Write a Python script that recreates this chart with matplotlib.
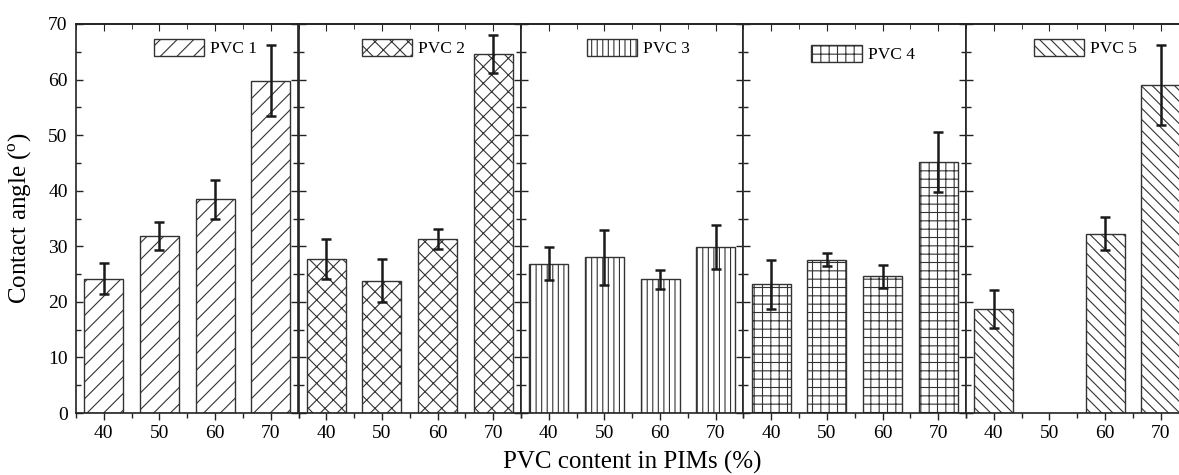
import matplotlib
matplotlib.use("Agg")
import matplotlib.pyplot as plt
from matplotlib.ticker import MultipleLocator

plt.rcParams['font.family'] = ['Liberation Serif', 'DejaVu Serif']
plt.rcParams['mathtext.fontset'] = 'custom'
plt.rcParams['mathtext.rm'] = 'Liberation Serif'
plt.rcParams['hatch.linewidth'] = 0.8
plt.rcParams['hatch.color'] = 'black'

content = [40, 50, 60, 70]
series = ['PVC 1', 'PVC 2', 'PVC 3', 'PVC 4', 'PVC 5']
hatches = ['//', 'xx', '|||', '++', '\\\\\\']

pvc1 = [24.2, 31.9, 38.5, 59.8]
pvc2 = [27.8, 23.8, 31.4, 64.6]
pvc3 = [26.9, 28.0, 24.1, 29.9]
pvc4 = [23.2, 27.6, 24.6, 45.2]
pvc5 = [18.7, None, 32.3, 59.0]

err1 = [2.8, 2.5, 3.5, 6.4]
err2 = [3.6, 3.9, 1.8, 3.4]
err3 = [2.9, 5.0, 1.7, 3.9]
err4 = [4.4, 1.2, 2.1, 5.4]
err5 = [3.4, None, 3.0, 7.2]

values = [pvc1, pvc2, pvc3, pvc4, pvc5]
errors = [err1, err2, err3, err4, err5]

# legend anchor per panel (axes fraction)
leg_pos = [(0.35, 0.938), (0.285, 0.938), (0.295, 0.938), (0.305, 0.922), (0.305, 0.938)]

W, H = 1179, 475
fig = plt.figure(figsize=(W / 100, H / 100), dpi=100)

panel_w = 222.5
left0 = 76
bottom_px = 413
top_px = 24

for i in range(5):
    ax = fig.add_axes([(left0 + i * panel_w) / W, (H - bottom_px) / H,
                       panel_w / W, (bottom_px - top_px) / H])
    xs = [c for c, v in zip(content, values[i]) if v is not None]
    ys = [v for v in values[i] if v is not None]
    es = [e for e in errors[i] if e is not None]
    ax.bar(xs, ys, width=7, color='white', edgecolor='#333333', linewidth=1.0,
           hatch=hatches[i], label=series[i])
    ax.errorbar(xs, ys, yerr=es, fmt='none', ecolor='#1a1a1a', elinewidth=1.8,
                capsize=3.5, capthick=1.8)
    ax.set_xlim(35, 75)
    ax.set_ylim(0, 70)
    ax.set_xticks(content)
    ax.xaxis.set_minor_locator(MultipleLocator(5))
    ax.yaxis.set_major_locator(MultipleLocator(10))
    ax.yaxis.set_minor_locator(MultipleLocator(5))
    ax.tick_params(axis='x', which='both', direction='out', bottom=True, top=False,
                   labelsize=14, pad=4)
    ax.tick_params(axis='y', which='both', direction='in', left=True, right=True,
                   labelsize=14, pad=6)
    ax.tick_params(which='major', length=5, width=1.0, color='#222222')
    ax.tick_params(which='minor', length=3.5, width=1.0, color='#222222')
    sec = ax.secondary_xaxis('top')
    sec.set_xticks(content)
    sec.xaxis.set_minor_locator(MultipleLocator(5))
    sec.tick_params(which='both', direction='in', labeltop=False, color='#222222')
    sec.tick_params(which='major', length=5)
    sec.tick_params(which='minor', length=3.5)
    sec.spines['top'].set_linewidth(1.2)
    sec.spines['top'].set_color('#222222')
    if i > 0:
        ax.tick_params(axis='y', labelleft=False)
    for s in ax.spines.values():
        s.set_linewidth(1.2)
        s.set_color('#222222')
    ax.legend(loc='center left', bbox_to_anchor=leg_pos[i], frameon=False,
              fontsize=12.5, handlelength=2.9, handleheight=1.1,
              handletextpad=0.35, borderpad=0, borderaxespad=0)
    if i == 0:
        ax.set_ylabel('Contact angle ($^\\mathregular{o}$)', fontsize=18, labelpad=10)

# shared x label centred on the whole row of panels
fig.text((left0 + 2.5 * panel_w) / W, 0.027, 'PVC content in PIMs (%)',
         ha='center', va='center', fontsize=18)

fig.savefig('out.png', dpi=100)
